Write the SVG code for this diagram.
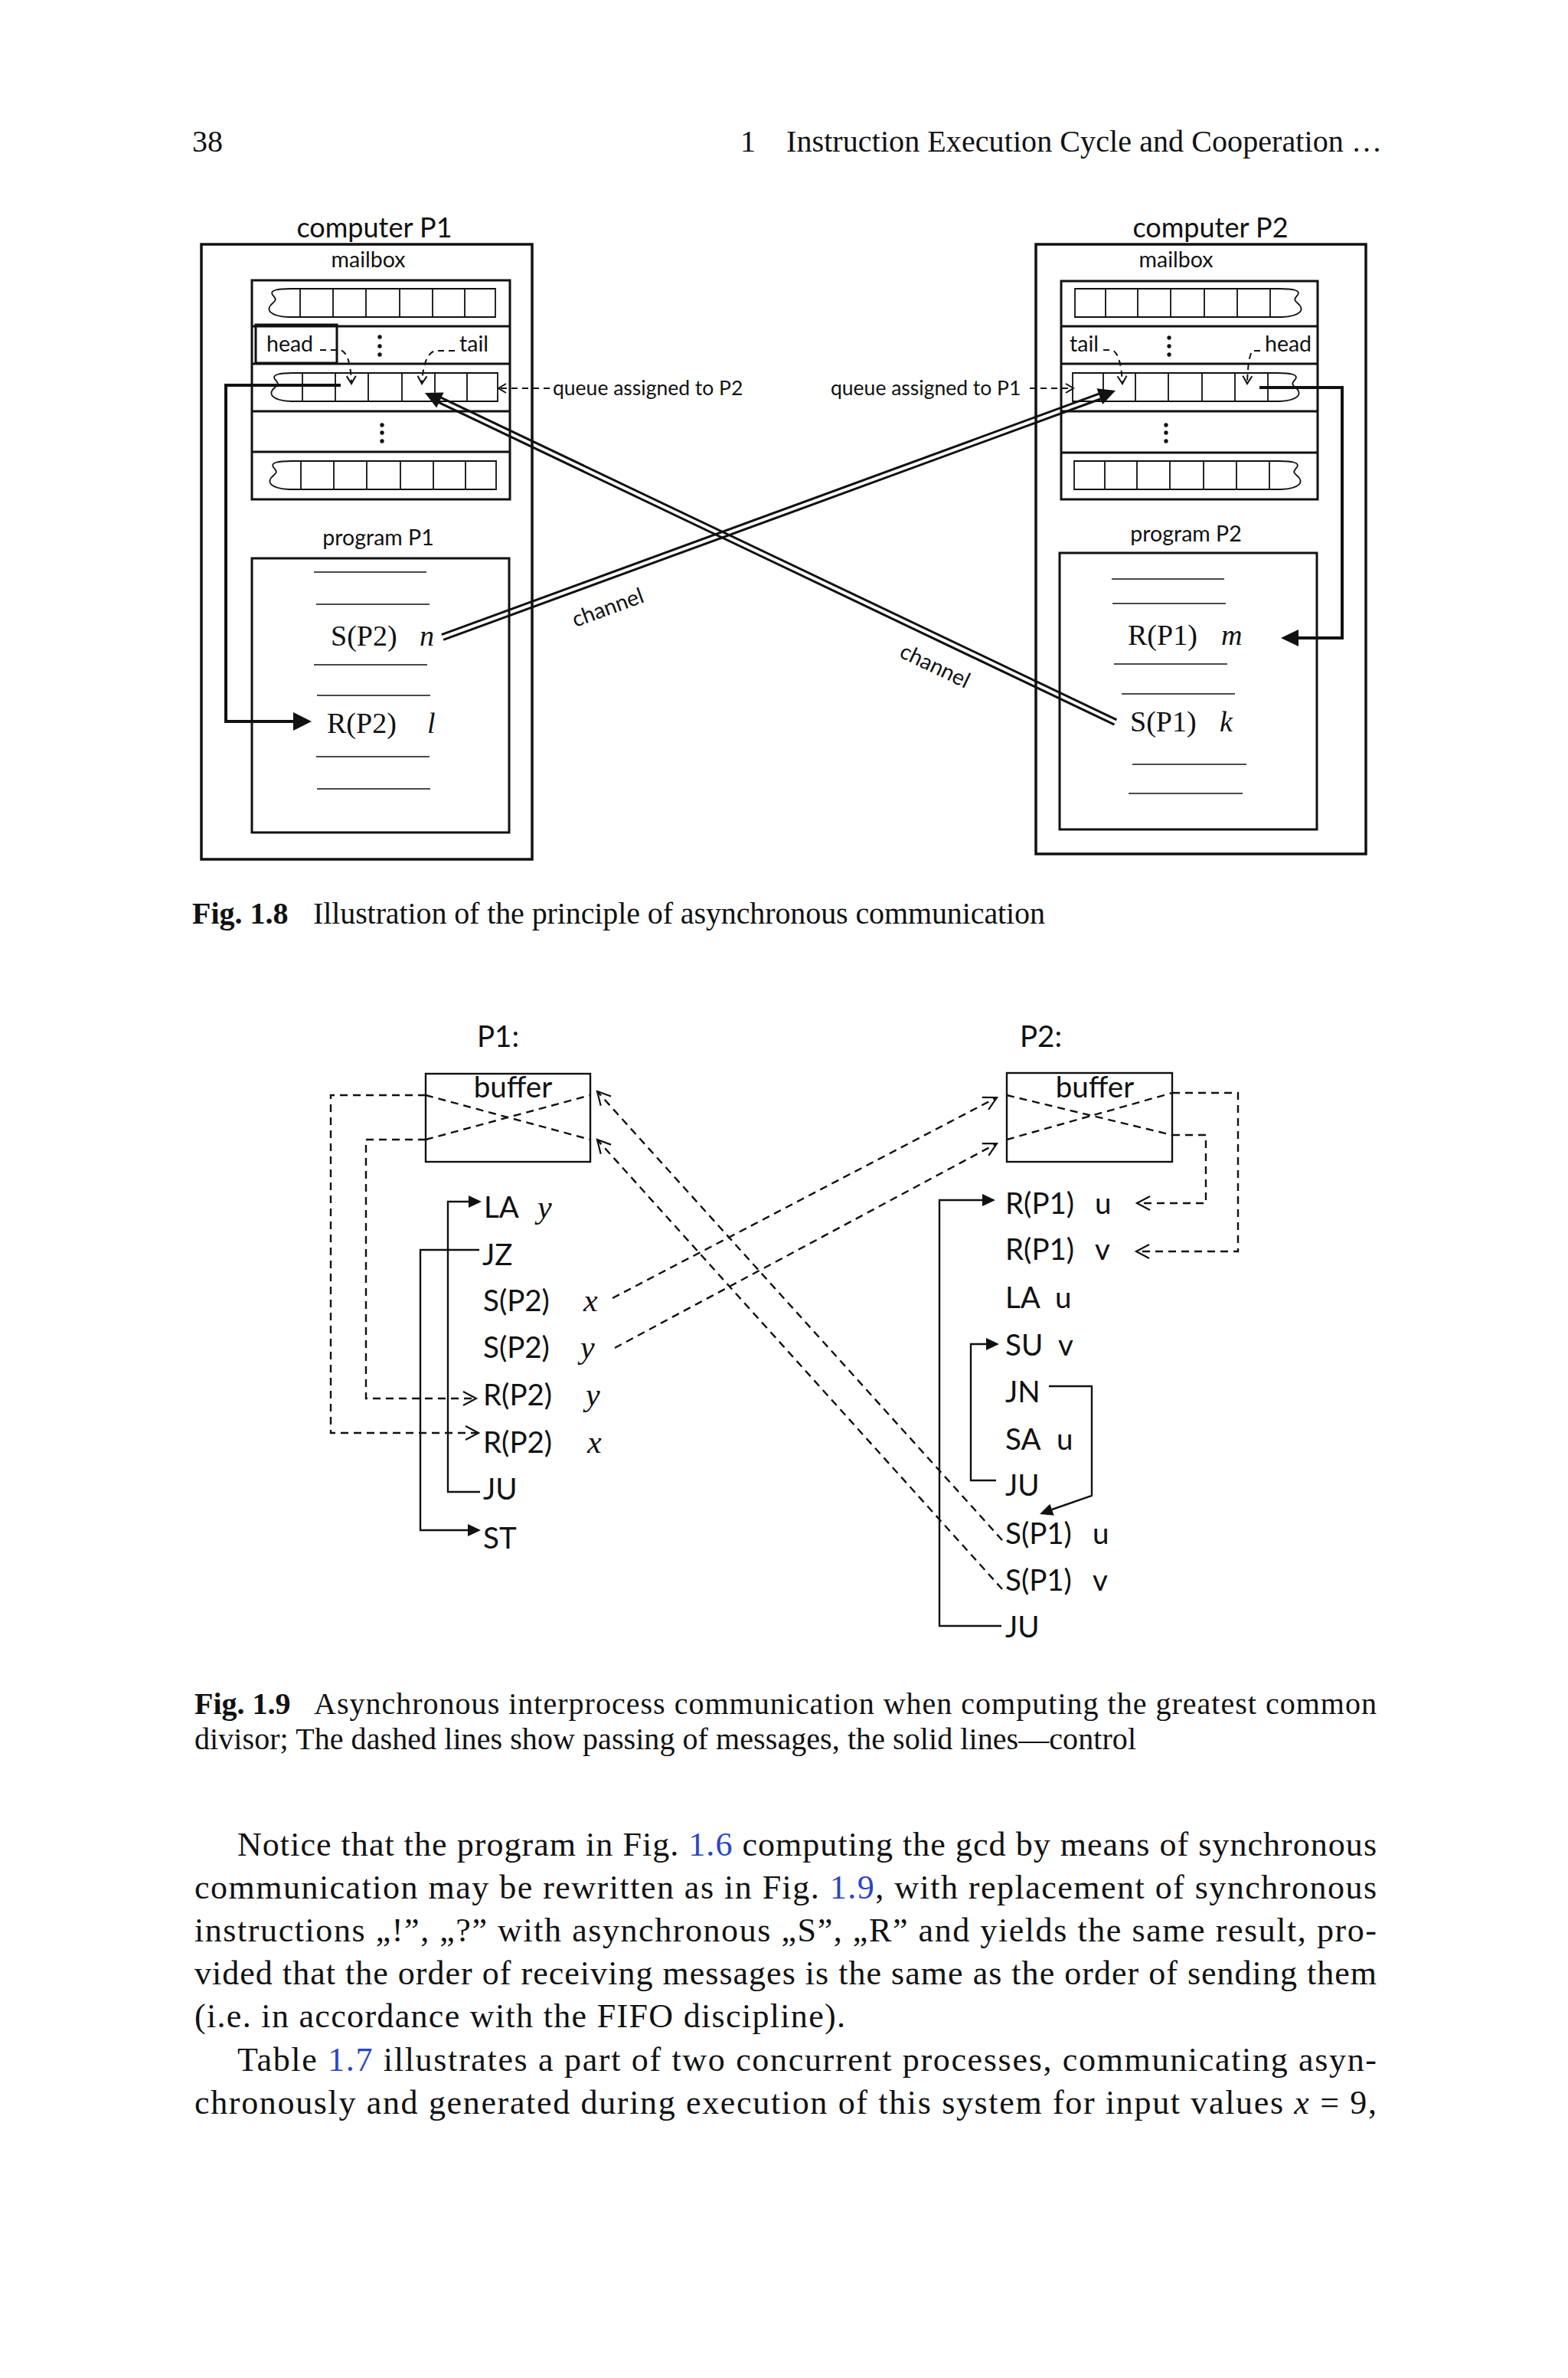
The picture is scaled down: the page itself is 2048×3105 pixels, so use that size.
<svg xmlns="http://www.w3.org/2000/svg" xmlns:xlink="http://www.w3.org/1999/xlink" width="2048" height="3105" viewBox="0 0 2048 3105">
<style>
.box{fill:none;stroke:#111;stroke-width:3.5}
.mb{fill:none;stroke:#111;stroke-width:3}
.cell{fill:none;stroke:#111;stroke-width:1.8}
.thin{stroke:#111;stroke-width:1.6}
.ctl{fill:none;stroke:#111;stroke-width:4;stroke-linejoin:miter}
.ctl2{fill:none;stroke:#111;stroke-width:2.4;stroke-linejoin:miter}
.dash{fill:none;stroke:#111;stroke-width:2;stroke-dasharray:8 6}
.dash2{fill:none;stroke:#111;stroke-width:2.4;stroke-dasharray:10 7}
.ch{fill:none;stroke:#111;stroke-width:3}
.hd{fill:#111;stroke:none}
.cal{font-family:Lato,"Open Sans",sans-serif;fill:#111}
.tim{font-family:"Liberation Serif","Times New Roman",serif;fill:#111}
.it{font-style:italic}
.blue{fill:#2a45c8}
.dot{fill:#111}
</style>
<defs>
<marker id="oa" viewBox="-20 -12 24 24" refX="0" refY="0" markerWidth="24" markerHeight="24" orient="auto" markerUnits="userSpaceOnUse" overflow="visible">
<path d="M -17 -9 L 0 0 L -17 9" fill="none" stroke="#111" stroke-width="2.2"/>
</marker>
<marker id="oas" viewBox="-14 -10 18 20" refX="0" refY="0" markerWidth="18" markerHeight="20" orient="auto" markerUnits="userSpaceOnUse" overflow="visible">
<path d="M -10 -6 L 0 0 L -10 6" fill="none" stroke="#111" stroke-width="2"/>
</marker>
<g id="qL">
<path class="cell" d="M -12 0 H 255 V 37 H -15"/>
<path class="cell" d="M -12 0 C -30 0, -40 2, -36 8 C -32 13, -30 14, -36 19 C -46 27, -40 36, -15 37"/>
<path class="cell" d="M 0 0 V 37 M 43 0 V 37 M 86 0 V 37 M 130 0 V 37 M 173 0 V 37 M 215 0 V 37"/>
</g>
</defs>
<rect width="2048" height="3105" fill="#fff"/>

<!-- page header -->
<g id="header">
<text class="tim" x="251" y="198" font-size="40">38</text>
<text class="tim" x="967" y="198" font-size="40">1</text>
<text class="tim" x="1027" y="198" font-size="40" textLength="778">Instruction Execution Cycle and Cooperation …</text>
</g>

<!-- ============ Fig 1.8 ============ -->
<g id="computerP1">
<text class="cal" x="489" y="310" font-size="36" text-anchor="middle">computer P1</text>
<rect class="box" x="263" y="319" width="432" height="803"/>
<text class="cal" x="481" y="349" font-size="28.5" text-anchor="middle">mailbox</text>
</g>
<g id="mailboxP1">
<rect class="mb" x="329" y="366" width="337" height="286"/>
<path class="mb" d="M 329 426 H 666 M 329 475 H 666 M 329 537 H 666 M 329 590 H 666"/>
<use xlink:href="#qL" x="392" y="377"/>
<rect class="mb" x="334" y="424" width="106" height="50"/>
<text class="cal" x="348" y="459" font-size="28.5">head</text>
<text class="cal" x="600" y="459" font-size="28.5">tail</text>
<circle class="dot" cx="496" cy="440" r="2.7"/><circle class="dot" cx="496" cy="452" r="2.7"/><circle class="dot" cx="496" cy="463" r="2.7"/>
<use xlink:href="#qL" x="395" y="487"/>
<circle class="dot" cx="499" cy="555" r="2.7"/><circle class="dot" cx="499" cy="565" r="2.7"/><circle class="dot" cx="499" cy="576" r="2.7"/>
<use xlink:href="#qL" x="393" y="602"/>
</g>
<g id="programP1">
<text class="cal" x="494" y="712" font-size="28.5" text-anchor="middle">program P1</text>
<rect class="mb" x="329" y="729" width="336" height="358"/>
<path class="thin" d="M 410 747 H 557 M 413 789 H 561 M 410 868 H 558 M 414 908 H 562 M 413 988 H 561 M 414 1030 H 562"/>
<text class="tim" x="432" y="843" font-size="38">S(P2)</text>
<text class="tim it" x="548" y="843" font-size="38">n</text>
<text class="tim" x="427" y="957" font-size="38">R(P2)</text>
<text class="tim it" x="558" y="957" font-size="38">l</text>
</g>

<g id="computerP2">
<text class="cal" x="1581" y="310" font-size="36" text-anchor="middle">computer P2</text>
<rect class="box" x="1353" y="319" width="431" height="796"/>
<text class="cal" x="1536" y="349" font-size="28.5" text-anchor="middle">mailbox</text>
</g>
<g id="mailboxP2">
<rect class="mb" x="1386" y="367" width="335" height="285"/>
<path class="mb" d="M 1386 426 H 1721 M 1386 475 H 1721 M 1386 537 H 1721 M 1386 591 H 1721"/>
<use xlink:href="#qL" transform="translate(1659 377) scale(-1 1)"/>
<text class="cal" x="1397" y="459" font-size="28.5">tail</text>
<text class="cal" x="1652" y="459" font-size="28.5">head</text>
<circle class="dot" cx="1527" cy="441" r="2.7"/><circle class="dot" cx="1527" cy="452" r="2.7"/><circle class="dot" cx="1527" cy="463" r="2.7"/>
<use xlink:href="#qL" transform="translate(1656 487) scale(-1 1)"/>
<circle class="dot" cx="1523" cy="555" r="2.7"/><circle class="dot" cx="1523" cy="565" r="2.7"/><circle class="dot" cx="1523" cy="576" r="2.7"/>
<use xlink:href="#qL" transform="translate(1658 602) scale(-1 1)"/>
</g>
<g id="programP2">
<text class="cal" x="1549" y="707" font-size="28.5" text-anchor="middle">program P2</text>
<rect class="mb" x="1384" y="722" width="336" height="361"/>
<path class="thin" d="M 1452 756 H 1599 M 1453 788 H 1601 M 1455 867 H 1603 M 1465 906 H 1613 M 1479 998 H 1628 M 1474 1036 H 1623"/>
<text class="tim" x="1473" y="842" font-size="38">R(P1)</text>
<text class="tim it" x="1595" y="842" font-size="38">m</text>
<text class="tim" x="1476" y="955" font-size="38">S(P1)</text>
<text class="tim it" x="1593" y="955" font-size="38">k</text>
</g>

<g id="labels18">
<text class="cal" x="722" y="516" font-size="26.5">queue assigned to P2</text>
<text class="cal" x="1085" y="516" font-size="26.5">queue assigned to P1</text>
<text class="cal" font-size="28.5" text-anchor="middle" transform="translate(794 794) rotate(-20.1)" x="0" y="9">channel</text>
<text class="cal" font-size="28.5" text-anchor="middle" transform="translate(1221 870) rotate(25.5)" x="0" y="9">channel</text>
</g>

<g id="connectors18">
<path class="dash" d="M 418 457 L 445 457 Q 458 462 459 501" marker-end="url(#oas)"/>
<path class="dash" d="M 594 458 L 568 458 Q 553 463 551 501" marker-end="url(#oas)"/>
<path class="dash" d="M 1441 457 L 1452 457 Q 1464 460 1466 501" marker-end="url(#oas)"/>
<path class="dash" d="M 1646 458 L 1636 458 Q 1630 465 1629 501" marker-end="url(#oas)"/>
<path class="dash" d="M 718 507 H 651" marker-end="url(#oas)"/>
<path class="dash" d="M 1345 507 H 1402" marker-end="url(#oas)"/>
<path class="ctl" d="M 445 503 H 295 V 942 H 386"/>
<polygon class="hd" points="383,930 407,942 383,954"/>
<path class="ctl" d="M 1645 506 H 1753 V 833 H 1693"/>
<polygon class="hd" points="1696,822 1673,833 1696,844"/>
<path class="ch" d="M 579.2 835.3 L 1441.3 519.5 M 576.8 828.7 L 1438.9 512.9"/>
<polygon class="hd" points="1457,510 1440.1,527.9 1432.5,507.3"/>
<path class="ch" d="M 1458.5 939.8 L 572.7 517.6 M 1455.5 946.2 L 569.7 523.9"/>
<polygon class="hd" points="555,513 579.6,512.6 570.2,532.4"/>
</g>

<g id="caption18">
<text class="tim" x="251" y="1206" font-size="40" font-weight="bold">Fig. 1.8</text>
<text class="tim" x="409" y="1206" font-size="40" textLength="956">Illustration of the principle of asynchronous communication</text>
</g>

<!-- ============ Fig 1.9 ============ -->
<g id="procP1">
<text class="cal" x="623" y="1367" font-size="38.5">P1:</text>
<rect class="ctl2" x="556" y="1402" width="215" height="115"/>
<text class="cal" x="670" y="1433" font-size="38.5" text-anchor="middle">buffer</text>
<path class="dash2" d="M 556 1430 L 771 1488 M 556 1488 L 771 1430"/>
<text class="cal" x="632" y="1590" font-size="38.5">LA</text>
<text class="tim it" x="702" y="1590" font-size="42">y</text>
<text class="cal" x="630" y="1652" font-size="38.5">JZ</text>
<text class="cal" x="631" y="1712" font-size="38.5">S(P2)</text>
<text class="tim it" x="762" y="1712" font-size="42">x</text>
<text class="cal" x="631" y="1773" font-size="38.5">S(P2)</text>
<text class="tim it" x="758" y="1773" font-size="42">y</text>
<text class="cal" x="631" y="1835" font-size="38.5">R(P2)</text>
<text class="tim it" x="765" y="1835" font-size="42">y</text>
<text class="cal" x="631" y="1897" font-size="38.5">R(P2)</text>
<text class="tim it" x="767" y="1897" font-size="42">x</text>
<text class="cal" x="631" y="1958" font-size="38.5">JU</text>
<text class="cal" x="631" y="2022" font-size="38.5">ST</text>
</g>
<g id="procP2">
<text class="cal" x="1332" y="1367" font-size="38.5">P2:</text>
<rect class="ctl2" x="1315" y="1401" width="216" height="116"/>
<text class="cal" x="1430" y="1433" font-size="38.5" text-anchor="middle">buffer</text>
<path class="dash2" d="M 1315 1430 L 1531 1482 M 1315 1488 L 1531 1427"/>
<text class="cal" x="1313" y="1585" font-size="38.5">R(P1)</text>
<text class="cal" x="1430" y="1585" font-size="38.5">u</text>
<text class="cal" x="1313" y="1645" font-size="38.5">R(P1)</text>
<text class="cal" x="1430" y="1645" font-size="38.5">v</text>
<text class="cal" x="1313" y="1708" font-size="38.5">LA</text>
<text class="cal" x="1378" y="1708" font-size="38.5">u</text>
<text class="cal" x="1313" y="1770" font-size="38.5">SU</text>
<text class="cal" x="1382" y="1770" font-size="38.5">v</text>
<text class="cal" x="1313" y="1831" font-size="38.5">JN</text>
<text class="cal" x="1313" y="1893" font-size="38.5">SA</text>
<text class="cal" x="1380" y="1893" font-size="38.5">u</text>
<text class="cal" x="1313" y="1953" font-size="38.5">JU</text>
<text class="cal" x="1313" y="2016" font-size="38.5">S(P1)</text>
<text class="cal" x="1427" y="2016" font-size="38.5">u</text>
<text class="cal" x="1313" y="2077" font-size="38.5">S(P1)</text>
<text class="cal" x="1427" y="2077" font-size="38.5">v</text>
<text class="cal" x="1313" y="2138" font-size="38.5">JU</text>
</g>

<g id="connectors19">
<path class="dash2" d="M 556 1430 H 432 V 1871 H 625" marker-end="url(#oa)"/>
<path class="dash2" d="M 556 1488 H 478 V 1826 H 622" marker-end="url(#oa)"/>
<path class="dash2" d="M 1531 1427 H 1617 V 1634 H 1484" marker-end="url(#oa)"/>
<path class="dash2" d="M 1531 1482 H 1575 V 1571 H 1485" marker-end="url(#oa)"/>
<path class="dash2" d="M 800 1695 L 1302 1433" marker-end="url(#oa)"/>
<path class="dash2" d="M 803 1760 L 1302 1493" marker-end="url(#oa)"/>
<path class="dash2" d="M 1309 2011 L 780 1425" marker-end="url(#oa)"/>
<path class="dash2" d="M 1309 2075 L 780 1488" marker-end="url(#oa)"/>
<path class="ctl2" d="M 627 1948 H 585 V 1569 H 614"/>
<polygon class="hd" points="612,1561 629,1569 612,1577"/>
<path class="ctl2" d="M 626 1632 H 549 V 1998 H 613"/>
<polygon class="hd" points="611,1990 628,1998 611,2006"/>
<path class="ctl2" d="M 1308 2123 H 1227 V 1567 H 1285"/>
<polygon class="hd" points="1283,1559 1300,1567 1283,1575"/>
<path class="ctl2" d="M 1301 1933 H 1268 V 1755 H 1290"/>
<polygon class="hd" points="1288,1747 1305,1755 1288,1763"/>
<path class="ctl2" d="M 1370 1810 H 1426 V 1953 L 1374 1971"/>
<polygon class="hd" points="1358,1977 1376.7,1978.8 1371.3,1963.8"/>
</g>

<g id="caption19">
<text class="tim" x="254" y="2238" font-size="40" font-weight="bold">Fig. 1.9</text>
<text class="tim" x="410" y="2238" font-size="40" textLength="1388">Asynchronous interprocess communication when computing the greatest common</text>
<text class="tim" x="254" y="2284" font-size="40" textLength="1230">divisor; The dashed lines show passing of messages, the solid lines—control</text>
</g>

<g id="body">
<text class="tim" x="310" y="2423" font-size="44" textLength="1488">Notice that the program in Fig. <tspan class="blue">1.6</tspan> computing the gcd by means of synchronous</text>
<text class="tim" x="254" y="2479" font-size="44" textLength="1544">communication may be rewritten as in Fig. <tspan class="blue">1.9</tspan>, with replacement of synchronous</text>
<text class="tim" x="254" y="2535" font-size="44" textLength="1544">instructions „!”, „?” with asynchronous „S”, „R” and yields the same result, pro-</text>
<text class="tim" x="254" y="2591" font-size="44" textLength="1544">vided that the order of receiving messages is the same as the order of sending them</text>
<text class="tim" x="254" y="2647" font-size="44" textLength="850">(i.e. in accordance with the FIFO discipline).</text>
<text class="tim" x="310" y="2704" font-size="44" textLength="1488">Table <tspan class="blue">1.7</tspan> illustrates a part of two concurrent processes, communicating asyn-</text>
<text class="tim" x="254" y="2760" font-size="44" textLength="1544">chronously and generated during execution of this system for input values <tspan class="it">x</tspan> = 9,</text>
</g>
</svg>
